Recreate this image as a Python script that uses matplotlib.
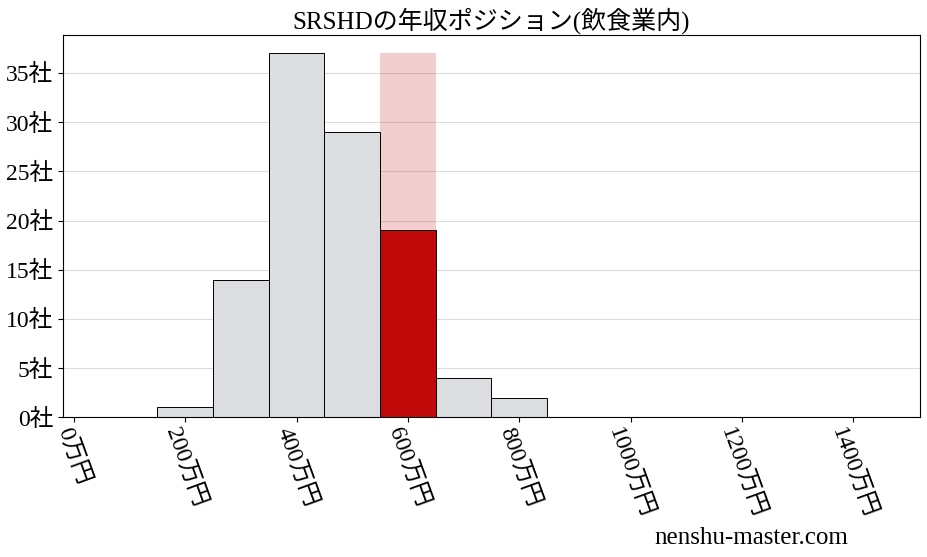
import numpy as np
import matplotlib
matplotlib.use('Agg')
import matplotlib.pyplot as plt

plt.rcParams['font.family'] = ['Liberation Serif', 'Noto Sans CJK JP']

# bins in 万円 (width 100), centers
bin_centers = [200, 300, 400, 500, 600, 700, 800]
counts = [1, 14, 37, 29, 19, 4, 2]
highlight_center = 600
xticks = [0, 200, 400, 600, 800, 1000, 1200, 1400]
yticks = [0, 5, 10, 15, 20, 25, 30, 35]
title = 'SRSHDの年収ポジション(飲食業内)'
width = 100

fig = plt.figure(figsize=(9.28, 5.57), dpi=100)
ax = fig.add_axes([0.0676, 0.2508, 0.9238, 0.6862])

ax.grid(axis='y', color='#dddddd', linewidth=0.8, zorder=0)
ax.set_axisbelow(True)

maxc = max(counts)
ax.bar([highlight_center], [maxc], width=width, color='#c00a0a', alpha=0.2,
       linewidth=0, zorder=1)
colors = ['#c00a0a' if c == highlight_center else '#dcdde0' for c in bin_centers]
ax.bar(bin_centers, counts, width=width, color=colors, edgecolor='black',
       linewidth=0.7, zorder=2)

ax.set_xlim(-20, 1520)
ax.set_ylim(0, maxc * 1.05)
ax.set_xticks(xticks)
ax.set_xticklabels(['%d万円' % v for v in xticks], rotation=-70, ha='center',
                   va='top', fontsize=17)
ax.set_yticks(yticks)
ax.set_yticklabels(['%d社' % v for v in yticks], fontsize=17)
ax.tick_params(axis='x', pad=2)
ax.set_title(title, fontsize=18, pad=5)

fig.text(0.705, 0.035, 'nenshu-master.com', fontsize=18, va='center')

plt.savefig('out.png', dpi=100)
